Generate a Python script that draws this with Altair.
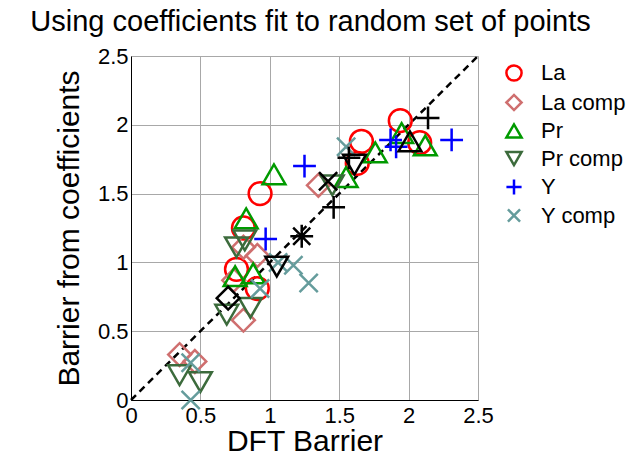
import altair as alt
import pandas as pd

FONT = "Liberation Sans"

series_names = ["La", "La comp", "Pr", "Pr comp", "Y", "Y comp"]
series_colors = ["#FF0000", "#CF6F6F", "#009A00", "#3C6B3C", "#0000FF", "#659C9C"]

la_x = [0.76, 0.91, 0.81, 0.93, 1.63, 1.66, 1.94, 2.08]
la_y = [0.95, 0.81, 1.25, 1.50, 1.72, 1.88, 2.03, 1.87]

lacomp_x = [0.35, 0.46, 0.81, 0.74, 0.81, 0.91, 1.35]
lacomp_y = [0.33, 0.28, 0.58, 0.87, 1.11, 1.05, 1.56]

pr_x = [0.75, 0.88, 0.83, 1.03, 1.55, 1.76, 1.95, 2.12]
pr_y = [0.90, 0.92, 1.32, 1.64, 1.62, 1.80, 1.94, 1.85]

prcomp_x = [0.35, 0.50, 0.69, 0.86, 0.76, 0.82, 1.45]
prcomp_y = [0.18, 0.13, 0.62, 0.67, 1.11, 1.16, 1.56]

y_x = [0.97, 1.25, 1.87, 1.91, 2.31]
y_y = [1.17, 1.70, 1.89, 1.84, 1.89]

ycomp_x = [0.43, 0.43, 0.93, 1.06, 1.17, 1.28, 1.55]
ycomp_y = [0.00, 0.27, 0.81, 1.00, 0.98, 0.85, 1.84]

# black (unlabelled) markers
black_kind = ["diamond", "triangle-down", "star", "plus", "x", "plus", "triangle-down", "triangle-up", "plus"]
black_x = [0.70, 1.05, 1.23, 1.46, 1.42, 1.57, 1.61, 2.01, 2.14]
black_y = [0.74, 0.97, 1.19, 1.40, 1.59, 1.76, 1.71, 1.88, 2.05]

diag_x = [0.0, 2.5]
ticks = [0, 0.5, 1, 1.5, 2, 2.5]

PLUS = "M-1,0H1M0,-1V1"
CROSS = "M-0.8,-0.8L0.8,0.8M-0.8,0.8L0.8,-0.8"
STAR = "M-1,0H1M0,-1V1M-0.75,-0.75L0.75,0.75M-0.75,0.75L0.75,-0.75"
series_shapes = ["circle", "diamond", "triangle-up", "triangle-down", PLUS, CROSS]
kind_shapes = {"diamond": "diamond", "triangle-down": "triangle-down", "triangle-up": "triangle-up",
               "plus": PLUS, "x": CROSS, "star": STAR}

rows = []
for name, xs, ys in zip(series_names,
                        [la_x, lacomp_x, pr_x, prcomp_x, y_x, ycomp_x],
                        [la_y, lacomp_y, pr_y, prcomp_y, y_y, ycomp_y]):
    for a, b in zip(xs, ys):
        rows.append({"series": name, "x": a, "y": b})
df = pd.DataFrame(rows)
df_black = pd.DataFrame({"kind": black_kind, "x": black_x, "y": black_y})
df_diag = pd.DataFrame({"x": diag_x, "y": diag_x})

xscale = alt.Scale(domain=[0, 2.5], nice=False, zero=False)
yscale = alt.Scale(domain=[0, 2.5], nice=False, zero=False)

xaxis = alt.Axis(values=ticks, format="~g", title="DFT Barrier", grid=True,
                 ticks=False, tickSize=0, labelPadding=5, labelFontSize=22,
                 labelFont=FONT, labelColor="black", titleFont=FONT, titleFontSize=30,
                 titleFontWeight="normal", titleColor="black", titleY=50,
                 titleBaseline="alphabetic", domainColor="black", gridColor="#A8A8A8",
                 gridWidth=1, labelFlush=False, labelOverlap=False)
yaxis = alt.Axis(values=ticks, format="~g", title="Barrier from coefficients", grid=True,
                 ticks=False, tickSize=0, labelPadding=3, labelFontSize=22,
                 labelFont=FONT, labelColor="black", titleFont=FONT, titleFontSize=30,
                 titleFontWeight="normal", titleColor="black", titleX=-53,
                 titleBaseline="alphabetic", domainColor="black", gridColor="#A8A8A8",
                 gridWidth=1, labelFlush=False, labelOverlap=False)

diag = alt.Chart(df_diag).mark_line(color="black", strokeWidth=2.5, strokeDash=[7, 5]).encode(
    x=alt.X("x:Q", scale=xscale, axis=xaxis),
    y=alt.Y("y:Q", scale=yscale, axis=yaxis),
)

pts = alt.Chart(df).mark_point(filled=False, strokeWidth=2.5, size=520, opacity=1).encode(
    x=alt.X("x:Q", scale=xscale),
    y=alt.Y("y:Q", scale=yscale),
    color=alt.Color("series:N", scale=alt.Scale(domain=series_names, range=series_colors),
                    legend=alt.Legend(title=None, orient="none", legendX=372, legendY=6,
                                      labelFont=FONT, labelFontSize=22, labelColor="black",
                                      symbolSize=230, symbolStrokeWidth=2.5, rowPadding=3.5,
                                      labelOffset=16, padding=0)),
    shape=alt.Shape("series:N", scale=alt.Scale(domain=series_names, range=series_shapes)),
)

black_layers = []
for k in ["diamond", "triangle-down", "star", "plus", "x", "triangle-up"]:
    black_layers.append(
        alt.Chart(df_black).transform_filter(alt.datum.kind == k).mark_point(
            filled=False, strokeWidth=2.5, size=520, color="black", opacity=1, shape=kind_shapes[k]
        ).encode(
            x=alt.X("x:Q", scale=xscale),
            y=alt.Y("y:Q", scale=yscale),
        )
    )

chart = alt.layer(diag, pts, *black_layers).properties(
    width=347, height=344,
    padding={"left": 131, "top": 56, "right": 163, "bottom": 53},
    autosize=alt.AutoSizeParams(type="none"),
    title=alt.Title("Using coefficients fit to random set of points", font=FONT, fontSize=29,
                    fontWeight="normal", color="black", anchor="middle", offset=8, dx=6),
).configure_view(stroke="black", strokeWidth=1).configure(background="white")

chart.save("out.html", embed_options={"renderer": "svg", "actions": False})
